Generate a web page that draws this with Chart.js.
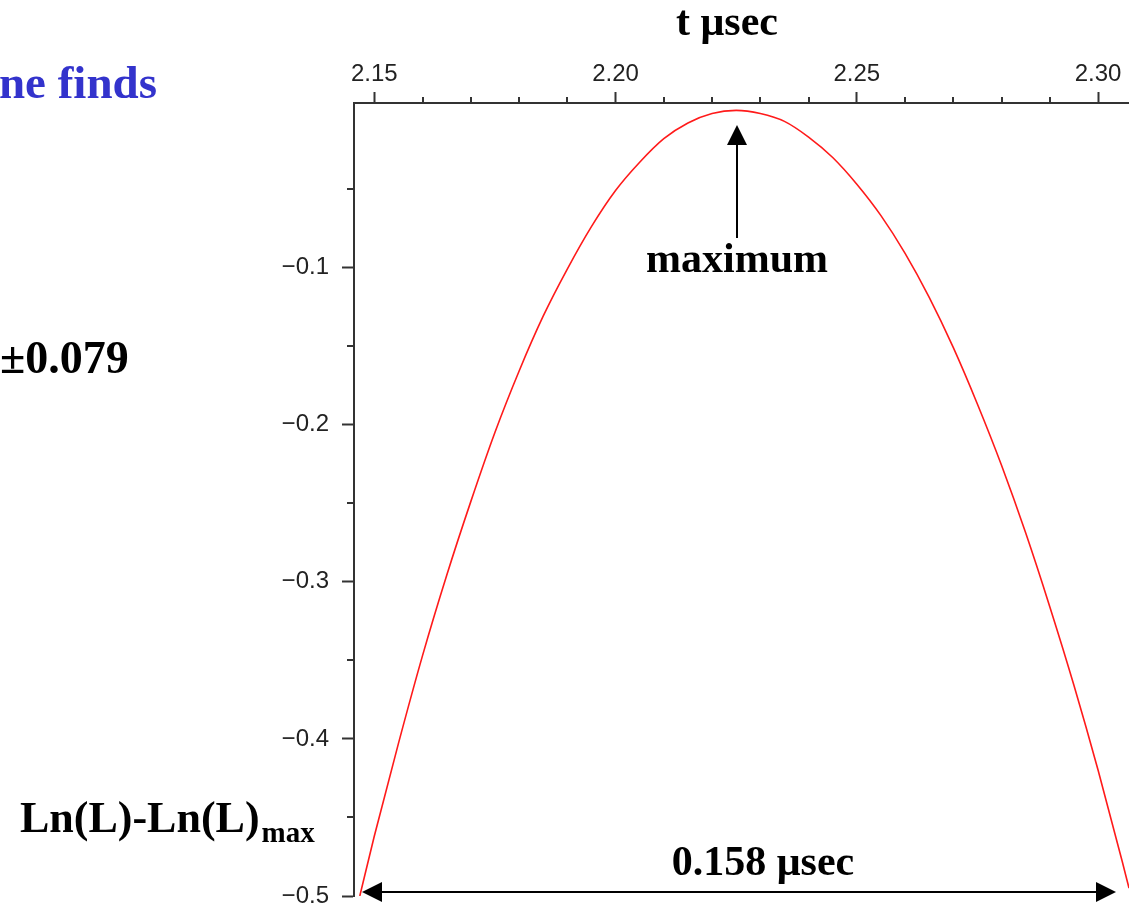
<!DOCTYPE html>
<html>
<head>
<meta charset="utf-8">
<script src="https://cdn.jsdelivr.net/npm/chart.js@4.4.0/dist/chart.umd.min.js"></script>
<style>
html, body { margin: 0; padding: 0; background: #fff; }
#wrap { position: relative; width: 1129px; height: 906px; }
</style>
</head>
<body>
<div id="wrap"><canvas id="chart" width="1129" height="906"></canvas></div>
<script>
// valores: t (usec) y Ln(L)-Ln(L)max
const tValues = [2.147, 2.150, 2.155, 2.160, 2.165, 2.170, 2.175, 2.180, 2.185, 2.190,
                 2.195, 2.200, 2.205, 2.210, 2.215, 2.220, 2.225, 2.230, 2.235, 2.240,
                 2.245, 2.250, 2.255, 2.260, 2.265, 2.270, 2.275, 2.280, 2.285, 2.290,
                 2.295, 2.300, 2.305, 2.3064];
const lnLValues = [-0.500, -0.462, -0.403, -0.347, -0.296, -0.249, -0.205, -0.166, -0.131, -0.101,
                   -0.074, -0.051, -0.033, -0.018, -0.008, -0.002, 0.000, -0.002, -0.007, -0.017,
                   -0.030, -0.047, -0.067, -0.091, -0.119, -0.151, -0.187, -0.226, -0.269, -0.316,
                   -0.366, -0.420, -0.478, -0.495];

const xMajorTicks = [2.15, 2.20, 2.25, 2.30];
const xMinorTicks = [2.16, 2.17, 2.18, 2.19, 2.21, 2.22, 2.23, 2.24, 2.26, 2.27, 2.28, 2.29];
const yMajorTicks = [-0.1, -0.2, -0.3, -0.4, -0.5];
const yMinorTicks = [-0.05, -0.15, -0.25, -0.35, -0.45];

const axisColor = '#333';
const tickFont = { family: 'Liberation Sans', size: 24 };

// marcas menores (Chart.js no las tiene)
const minorTicksPlugin = {
    id: 'minorTicks',
    afterDraw(chart) {
        const ctx = chart.ctx;
        const xs = chart.scales.x, ys = chart.scales.y;
        const area = chart.chartArea;
        ctx.save();
        ctx.strokeStyle = axisColor;
        ctx.lineWidth = 2;
        ctx.beginPath();
        xMinorTicks.forEach(v => {
            const px = Math.round(xs.getPixelForValue(v));
            ctx.moveTo(px, area.top);
            ctx.lineTo(px, area.top - 6);
        });
        yMinorTicks.forEach(v => {
            const py = Math.round(ys.getPixelForValue(v));
            ctx.moveTo(area.left, py);
            ctx.lineTo(area.left - 7, py);
        });
        ctx.stroke();
        ctx.restore();
    }
};

function arrowHead(ctx, tipX, tipY, dir) {
    // dir: 'up', 'left', 'right'
    ctx.beginPath();
    if (dir === 'up') {
        ctx.moveTo(tipX, tipY);
        ctx.lineTo(tipX - 10, tipY + 20);
        ctx.lineTo(tipX + 10, tipY + 20);
    } else if (dir === 'left') {
        ctx.moveTo(tipX, tipY);
        ctx.lineTo(tipX + 20, tipY - 10);
        ctx.lineTo(tipX + 20, tipY + 10);
    } else {
        ctx.moveTo(tipX, tipY);
        ctx.lineTo(tipX - 20, tipY - 10);
        ctx.lineTo(tipX - 20, tipY + 10);
    }
    ctx.closePath();
    ctx.fill();
}

// textos y flechas de la diapositiva
const annotationsPlugin = {
    id: 'annotations',
    afterDraw(chart) {
        const ctx = chart.ctx;
        ctx.save();
        ctx.textBaseline = 'alphabetic';

        ctx.fillStyle = '#000';
        ctx.font = 'bold 42px "Liberation Serif"';
        ctx.textAlign = 'center';
        ctx.fillText('t \u03bcsec', 727, 35);

        ctx.fillStyle = '#3333cc';
        ctx.font = 'bold 47px "Liberation Serif"';
        ctx.textAlign = 'right';
        ctx.fillText('ne finds', 157, 98);

        ctx.fillStyle = '#000';
        ctx.font = 'bold 46px "Liberation Serif"';
        ctx.textAlign = 'left';
        ctx.fillText('\u00b10.079', 0, 373);

        ctx.font = 'bold 44px "Liberation Serif"';
        ctx.fillText('Ln(L)-Ln(L)', 20, 832);
        const w = ctx.measureText('Ln(L)-Ln(L)').width;
        ctx.font = 'bold 29px "Liberation Serif"';
        ctx.fillText('max', 20 + w + 2, 842);

        ctx.font = 'bold 42px "Liberation Serif"';
        ctx.textAlign = 'center';
        ctx.fillText('maximum', 737, 272);
        ctx.fillText('0.158 \u03bcsec', 763, 875);

        // flecha del maximo
        ctx.strokeStyle = '#000';
        ctx.lineWidth = 2;
        ctx.beginPath();
        ctx.moveTo(737, 238);
        ctx.lineTo(737, 140);
        ctx.stroke();
        arrowHead(ctx, 737, 125, 'up');

        // flecha del ancho
        ctx.beginPath();
        ctx.moveTo(378, 892);
        ctx.lineTo(1100, 892);
        ctx.stroke();
        arrowHead(ctx, 362, 892, 'left');
        arrowHead(ctx, 1116, 892, 'right');

        ctx.restore();
    }
};

const ctx = document.getElementById('chart');
new Chart(ctx, {
    type: 'line',
    data: {
        datasets: [{
            label: 'Ln(L)-Ln(L)max',
            data: tValues.map((t, i) => ({ x: t, y: lnLValues[i] })),
            borderColor: '#ff1a1a',
            borderWidth: 1.6,
            pointRadius: 0,
            cubicInterpolationMode: 'monotone',
            fill: false
        }]
    },
    options: {
        responsive: false,
        animation: false,
        devicePixelRatio: 1,
        layout: { padding: { top: 0, right: 0, bottom: 10, left: 0 } },
        plugins: {
            legend: { display: false },
            tooltip: { enabled: false }
        },
        scales: {
            x: {
                type: 'linear',
                position: 'top',
                min: 2.1458,
                max: 2.3064,
                afterBuildTicks: scale => { scale.ticks = xMajorTicks.map(v => ({ value: v })); },
                afterFit: scale => {
                    scale.height = 103;
                    scale.paddingLeft = 0;
                    scale.paddingRight = 0;
                },
                ticks: {
                    callback: v => v.toFixed(2),
                    font: tickFont,
                    color: '#222',
                    padding: 3,
                    maxRotation: 0,
                    autoSkip: false
                },
                grid: {
                    drawOnChartArea: false,
                    drawTicks: true,
                    tickLength: 11,
                    tickWidth: 2,
                    tickColor: axisColor
                },
                border: { display: true, color: axisColor, width: 2 }
            },
            y: {
                type: 'linear',
                position: 'left',
                min: -0.5,
                max: 0.0047,
                afterBuildTicks: scale => { scale.ticks = yMajorTicks.map(v => ({ value: v })); },
                afterFit: scale => {
                    scale.width = 354;
                    scale.paddingTop = 0;
                    scale.paddingBottom = 0;
                },
                ticks: {
                    callback: v => '\u2212' + Math.abs(v).toFixed(1),
                    font: tickFont,
                    color: '#222',
                    padding: 13,
                    autoSkip: false
                },
                grid: {
                    drawOnChartArea: false,
                    drawTicks: true,
                    tickLength: 12,
                    tickWidth: 2,
                    tickColor: axisColor
                },
                border: { display: true, color: axisColor, width: 2 }
            }
        }
    },
    plugins: [minorTicksPlugin, annotationsPlugin]
});
</script>
</body>
</html>
